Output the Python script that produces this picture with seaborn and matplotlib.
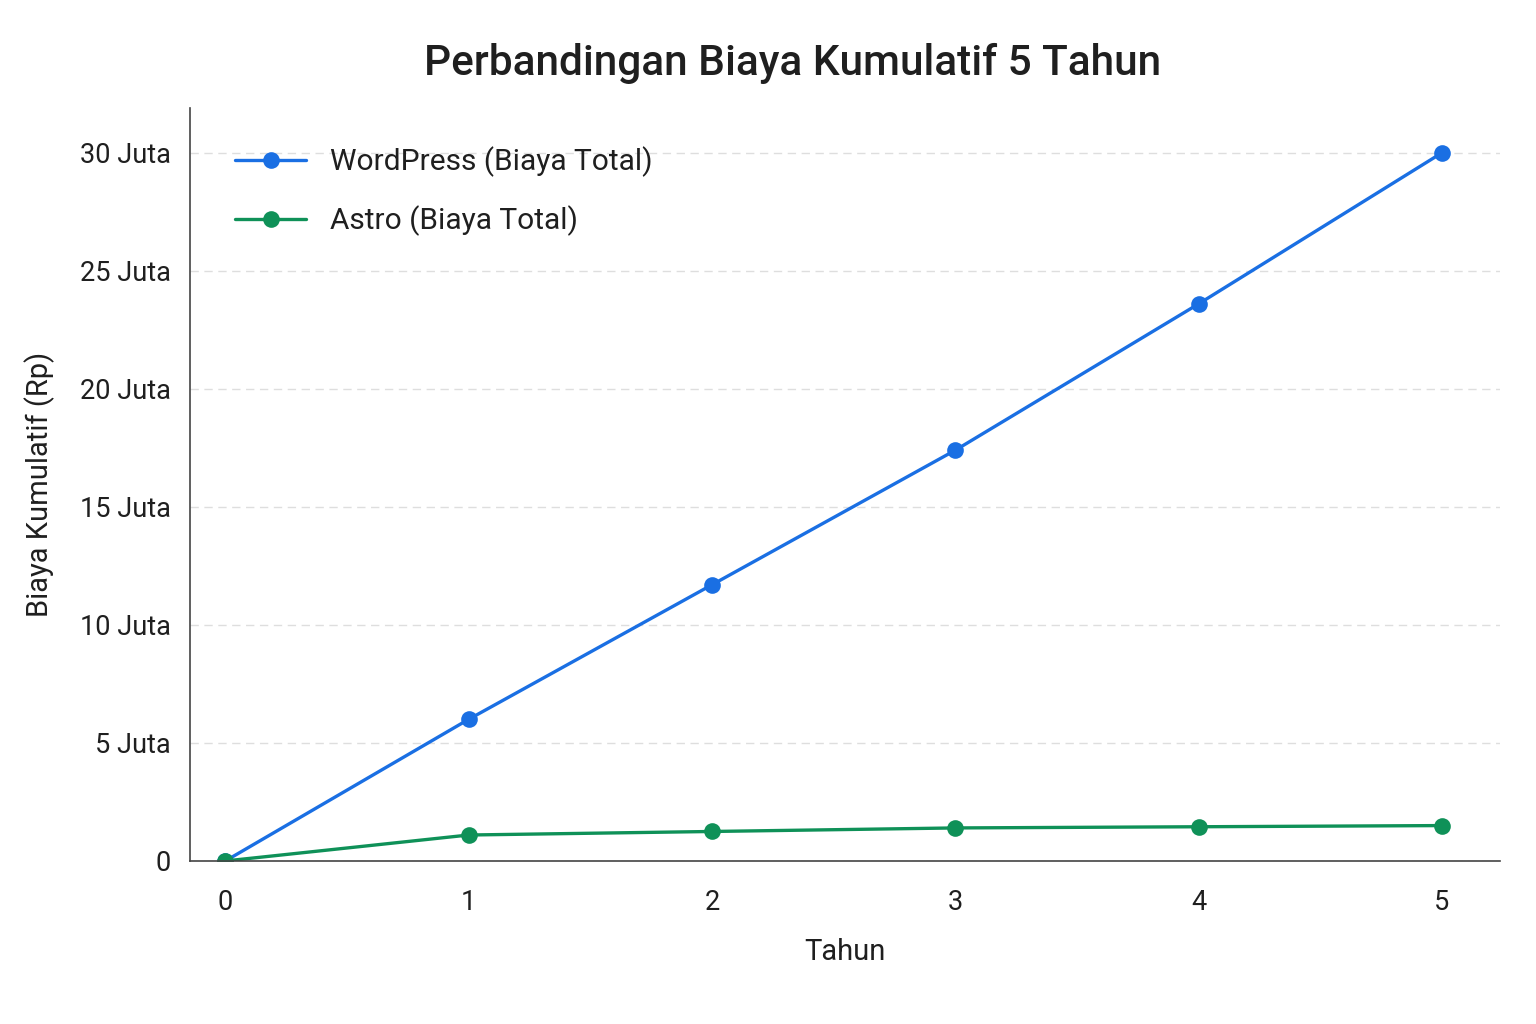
import matplotlib
matplotlib.use("Agg")
import matplotlib.pyplot as plt
import matplotlib.ticker as mticker
import pandas as pd
import seaborn as sns

# Data (biaya kumulatif dalam juta rupiah)
tahun = [0, 1, 2, 3, 4, 5]
wordpress = [0, 6.0, 11.7, 17.4, 23.6, 30.0]
astro = [0, 1.1, 1.25, 1.4, 1.45, 1.5]
labels = ["WordPress (Biaya Total)", "Astro (Biaya Total)"]
colors = ["#1a6fe3", "#0f9158"]
y_ticks = [0, 5, 10, 15, 20, 25, 30]

sns.set_theme(style="white")
plt.rcParams['font.family'] = ['Roboto', 'DejaVu Sans']

df = pd.DataFrame({
    "Tahun": tahun * 2,
    "Biaya": wordpress + astro,
    "Seri": [labels[0]] * len(tahun) + [labels[1]] * len(tahun),
})

fig = plt.figure(figsize=(15.36, 10.24), dpi=100)
ax = fig.add_axes([0.1237, 0.1592, 0.853, 0.7353])

sns.lineplot(data=df, x="Tahun", y="Biaya", hue="Seri", palette=colors,
             marker="o", markersize=12, markeredgewidth=0, linewidth=2.4, ax=ax)

ax.set_xlim(-0.145, 5.24)
ax.set_ylim(0, 31.9)
ax.set_xticks(tahun)
ax.set_yticks(y_ticks)
ax.yaxis.set_major_formatter(mticker.FuncFormatter(
    lambda v, p: "0" if v == 0 else f"{v:g} Juta"))
ax.tick_params(axis="both", length=0, labelsize=19.5, colors="#1f1f1f")
ax.tick_params(axis="y", pad=14)
ax.tick_params(axis="x", pad=20)

ax.grid(axis="y", linestyle=(0, (6, 4)), color="#dedede", linewidth=1)
for s in ["top", "right"]:
    ax.spines[s].set_visible(False)
for s in ["left", "bottom"]:
    ax.spines[s].set_color("#444444")
    ax.spines[s].set_linewidth(1.2)

ax.set_xlabel("Tahun", fontsize=21, color="#1f1f1f", labelpad=16)
ax.set_ylabel("Biaya Kumulatif (Rp)", fontsize=21, color="#1f1f1f", labelpad=18)
fig.suptitle("Perbandingan Biaya Kumulatif 5 Tahun", fontsize=30.5,
             fontweight="medium", color="#1f1f1f", x=0.516, y=0.958)

ax.legend(loc="upper left", frameon=False, fontsize=21.5, handlelength=2.4,
          handletextpad=0.8, labelspacing=0.95, borderaxespad=0.0,
          bbox_to_anchor=(0.025, 0.965), labelcolor="#1f1f1f")

fig.savefig("out.png", dpi=100)
